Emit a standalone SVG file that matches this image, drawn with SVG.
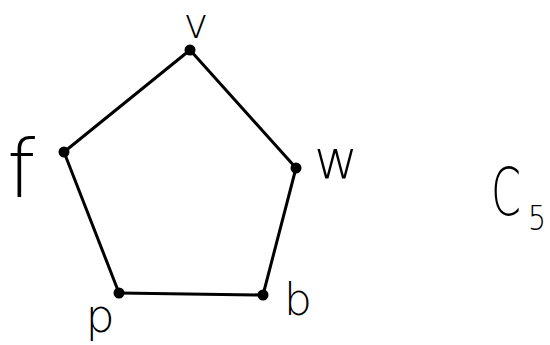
<svg xmlns="http://www.w3.org/2000/svg" width="550" height="345" viewBox="0 0 550 345">
<style>
.edge{stroke:#000;stroke-width:3;fill:none;stroke-linecap:round}
.dot{fill:#000}
.lbl{font-family:"DejaVu Sans","Liberation Sans",sans-serif;fill:#000;font-weight:300}
.title{font-family:"DejaVu Sans","Liberation Sans",sans-serif;fill:#000;font-weight:300}
</style>
<rect width="550" height="345" fill="#fff"/>
<g id="edges">
<line class="edge" x1="190" y1="50" x2="296" y2="168"/>
<line class="edge" x1="296" y1="168" x2="263" y2="295"/>
<line class="edge" x1="263" y1="295" x2="119" y2="293"/>
<line class="edge" x1="119" y1="293" x2="64" y2="152"/>
<line class="edge" x1="64" y1="152" x2="190" y2="50"/>
</g>
<g id="node-v"><circle class="dot" cx="190" cy="50" r="5.5"/><text class="lbl" x="196" y="38" text-anchor="middle" font-size="42">v</text></g>
<g id="node-w"><circle class="dot" cx="296" cy="168" r="5.5"/><text class="lbl" x="336" y="178" text-anchor="middle" font-size="54">w</text></g>
<g id="node-b"><circle class="dot" cx="263" cy="295" r="5.5"/><text class="lbl" x="298" y="315" text-anchor="middle" font-size="44">b</text></g>
<g id="node-p"><circle class="dot" cx="119" cy="293" r="5.5"/><text class="lbl" x="100" y="332" text-anchor="middle" font-size="46">p</text></g>
<g id="node-f"><circle class="dot" cx="64" cy="152" r="5.5"/><text class="lbl" x="21" y="197" text-anchor="middle" font-size="80">f</text></g>
<g id="title"><text class="title" x="491" y="215" font-size="66" textLength="30" lengthAdjust="spacingAndGlyphs">C</text><text class="title" x="528" y="230" font-size="34" textLength="18" lengthAdjust="spacingAndGlyphs">5</text></g>
</svg>
